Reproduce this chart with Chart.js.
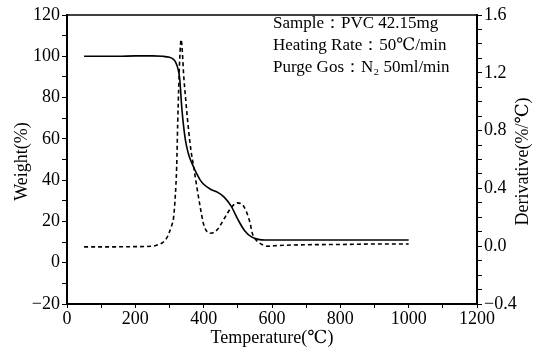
<!DOCTYPE html>
<html>
<head>
<meta charset="utf-8">
<script src="https://cdn.jsdelivr.net/npm/chart.js@4.4.1/dist/chart.umd.min.js"></script>
<style>
  html, body { margin: 0; padding: 0; background: #fff; }
  #wrap { width: 540px; height: 352px; }
</style>
</head>
<body>
<div id="wrap"><canvas id="tga" width="540" height="352"></canvas></div>
<script>
// TGA curve (solid) - weight % vs temperature
const weightTemps = [50, 100, 150, 200, 250, 280, 300, 310, 317, 325, 330, 336, 346, 355, 361, 370, 380, 390, 400, 420, 440, 460, 480, 500, 520, 540, 560, 580, 600, 700, 800, 900, 1000];
const weightValues = [100, 100, 100, 100.2, 100.2, 100, 99.5, 98.8, 97.4, 93.8, 89, 75, 60, 53, 50, 46.5, 43, 40, 38, 35.6, 34.2, 31.8, 27.5, 21, 15.5, 12.5, 11.3, 11, 11, 11, 11, 11, 11];

// DTG curve (dashed) - derivative %/°C vs temperature
const derivTemps = [50, 100, 200, 250, 263, 280, 292, 300, 306, 312, 317, 321, 324, 327, 330, 334, 338, 341, 348, 356, 363, 370, 380, 390, 400, 410, 419, 430, 440, 450, 460, 470, 480, 490, 498, 508, 516, 524, 531, 537, 541, 551, 565, 585, 620, 700, 800, 900, 1000];
const derivValues = [-0.005, -0.005, -0.003, 0.0, 0.008, 0.025, 0.057, 0.1, 0.14, 0.2, 0.35, 0.55, 0.85, 1.1, 1.3, 1.43, 1.33, 1.2, 1.0, 0.8, 0.66, 0.56, 0.41, 0.27, 0.15, 0.1, 0.09, 0.095, 0.115, 0.15, 0.19, 0.23, 0.265, 0.29, 0.3, 0.295, 0.28, 0.245, 0.2, 0.15, 0.1, 0.05, 0.02, 0.0, 0.005, 0.01, 0.012, 0.015, 0.015];

// Annotation text
const infoLines = ['Sample：PVC 42.15mg', 'Heating Rate：50℃/min', 'Purge Gos：N₂ 50ml/min'];
const xTitle = 'Temperature(℃)';
const yTitle = 'Weight(%)';
const y1Title = 'Derivative(%/℃)';

const serif = "'Liberation Serif', 'DejaVu Serif', serif";
const tickFont = { family: serif, size: 18 };

function toPoints(xs, ys) {
    return xs.map((x, i) => ({ x: x, y: ys[i] }));
}

function fmtNeg(s) {
    return s.charAt(0) === '-' ? '−' + s.slice(1) : s;
}

// Frame top line, axis titles and info text
const decorPlugin = {
    id: 'decor',
    afterDraw(chart) {
        const ctx = chart.ctx;
        const area = chart.chartArea;
        ctx.save();
        ctx.strokeStyle = '#000';
        ctx.lineWidth = 1.5;
        ctx.beginPath();
        ctx.moveTo(area.left, area.top);
        ctx.lineTo(area.right, area.top);
        ctx.stroke();

        ctx.fillStyle = '#000';
        ctx.font = '18px ' + serif;
        ctx.textAlign = 'center';
        ctx.textBaseline = 'middle';
        ctx.fillText(xTitle, (area.left + area.right) / 2, area.bottom + 34);

        const midY = (area.top + area.bottom) / 2 + 2;
        ctx.save();
        ctx.translate(area.left - 45, midY);
        ctx.rotate(-Math.PI / 2);
        ctx.fillText(yTitle, 0, 0);
        ctx.restore();

        ctx.save();
        ctx.translate(area.right + 46, midY);
        ctx.rotate(-Math.PI / 2);
        ctx.fillText(y1Title, 0, 0);
        ctx.restore();

        ctx.textAlign = 'left';
        ctx.font = '17px ' + serif;
        const tx = area.left + 206;
        infoLines.forEach((line, i) => {
            ctx.fillText(line, tx, area.top + 9 + i * 22);
        });
        ctx.restore();
    }
};

const ctx = document.getElementById('tga').getContext('2d');
const tgaChart = new Chart(ctx, {
    type: 'scatter',
    data: {
        datasets: [{
            label: 'Weight',
            data: toPoints(weightTemps, weightValues),
            showLine: true,
            borderColor: '#000',
            borderWidth: 1.6,
            pointRadius: 0,
            cubicInterpolationMode: 'monotone',
            yAxisID: 'y'
        }, {
            label: 'Derivative',
            data: toPoints(derivTemps, derivValues),
            showLine: true,
            borderColor: '#000',
            borderWidth: 1.6,
            borderDash: [4, 3],
            pointRadius: 0,
            cubicInterpolationMode: 'monotone',
            yAxisID: 'y1'
        }]
    },
    options: {
        responsive: false,
        animation: false,
        layout: { padding: { top: 15, left: 0, right: 0, bottom: 0 } },
        plugins: {
            legend: { display: false },
            tooltip: { enabled: false }
        },
        scales: {
            x: {
                type: 'linear',
                min: 0,
                max: 1200,
                afterFit: s => { s.height = 48; },
                border: { color: '#000', width: 2 },
                grid: { drawOnChartArea: false, tickLength: 4, color: '#000', tickColor: '#000' },
                ticks: {
                    stepSize: 100,
                    autoSkip: false,
                    maxRotation: 0,
                    color: '#000',
                    font: tickFont,
                    padding: 0,
                    callback: v => (v % 200 === 0 ? String(v) : '')
                }
            },
            y: {
                position: 'left',
                min: -20,
                max: 120,
                afterFit: s => { s.width = 67; },
                border: { color: '#000', width: 2 },
                grid: { drawOnChartArea: false, tickLength: 5, color: '#000', tickColor: '#000' },
                ticks: {
                    stepSize: 10,
                    autoSkip: false,
                    color: '#000',
                    font: tickFont,
                    padding: 2,
                    callback: v => (v % 20 === 0 ? fmtNeg(String(v)) : '')
                }
            },
            y1: {
                position: 'right',
                min: -0.4,
                max: 1.6,
                afterFit: s => { s.width = 63; },
                border: { color: '#000', width: 2 },
                grid: { drawOnChartArea: false, tickLength: 5, color: '#000', tickColor: '#000' },
                ticks: {
                    stepSize: 0.1,
                    autoSkip: false,
                    color: '#000',
                    font: tickFont,
                    padding: 2,
                    callback: v => {
                        const r = v / 0.4;
                        return Math.abs(r - Math.round(r)) < 1e-6 ? fmtNeg(v.toFixed(1)) : '';
                    }
                }
            }
        }
    },
    plugins: [decorPlugin]
});
</script>
</body>
</html>
